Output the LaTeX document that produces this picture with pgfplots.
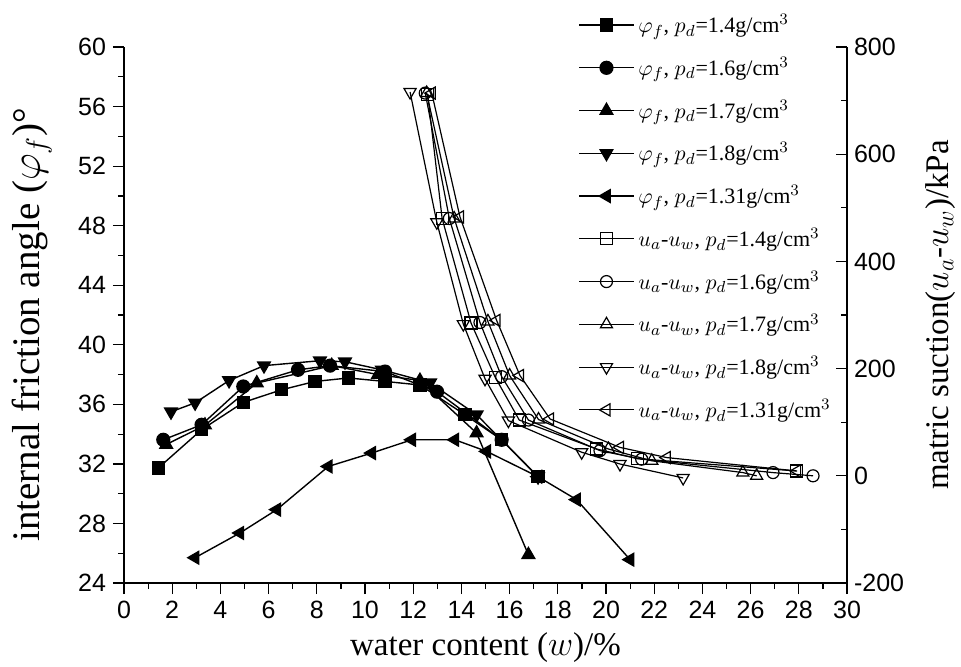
\documentclass[border=0pt]{standalone}
\usepackage{pgfplots}
\pgfplotsset{compat=1.18}
\usepackage{fontspec}
\setmainfont{Liberation Serif}
\newfontfamily\tickfont{Liberation Sans}

\begin{document}
\begin{tikzpicture}
\useasboundingbox (-62pt,-41.5pt) rectangle (418.5pt,291.5pt);
\pgfplotsset{
  every axis/.append style={
    scale only axis, width=361.5pt, height=268pt,
    at={(0pt,0pt)}, anchor=south west,
    xmin=0, xmax=30,
    xtick={0,2,...,30}, minor x tick num=1,
    tick align=outside, major tick length=5.5pt, minor tick length=3pt,
    tick style={black, line width=0.6pt},
    axis line style={line width=0.8pt},
    ticklabel style={font=\tickfont\fontsize{12.5}{14}\selectfont},
    /pgf/number format/assume math mode=true,
    label style={font=\fontsize{16.5}{19}\selectfont},
    legend image code/.code={\draw[mark repeat=2,mark phase=2,#1] plot coordinates {(0cm,0cm) (0.48cm,0cm) (0.96cm,0cm)};},
  },
  phi/.style={black, line width=0.7pt, mark options={solid, fill=black}},
  suc/.style={black, line width=0.6pt, mark options={solid, fill=white}, mark size=3pt},
}
\begin{axis}[
  axis x line*=bottom, axis y line*=left,
  ymin=24, ymax=60, ytick={24,28,...,60}, minor y tick num=1,
  xlabel={water content ($w$)/\%},
  ylabel={internal friction angle ($\varphi_f$)°},
  xlabel style={at={(axis description cs:0.5,-0.121)}, anchor=center},
  ylabel style={at={(axis description cs:-0.127,0.482)}, anchor=center, font=\fontsize{19.5}{22}\selectfont},
]
% phi, 1.4
\addplot[phi, mark=square*, mark size=3pt] coordinates {
(1.42,31.72) (3.22,34.3) (4.95,36.13) (6.54,36.98) (7.93,37.54) (9.31,37.77) (10.83,37.54) (12.28,37.3) (14.15,35.3) (15.67,33.62) (17.18,31.14)};
% phi, 1.6
\addplot[phi, mark=*, mark size=3.2pt] coordinates {
(1.63,33.62) (3.22,34.63) (4.95,37.2) (7.22,38.32) (8.55,38.6) (10.83,38.2) (12.99,36.85) (15.67,33.62)};
% phi, 1.7
\addplot[phi, mark=triangle*, mark size=3.6pt] coordinates {
(1.75,33.3) (3.36,34.6) (5.51,37.43) (8.62,38.6) (10.54,38.0) (12.28,37.6) (14.63,34.07) (16.78,25.9)};
% phi, 1.8
\addplot[phi, mark=triangle*, mark size=3.6pt, mark options={rotate=180}] coordinates {
(1.95,35.5) (2.95,36.1) (4.36,37.6) (5.81,38.6) (8.13,38.93) (9.17,38.86) (10.7,38.32) (12.7,37.45) (14.63,35.3) (17.18,31.14)};
% phi, 1.31
\addplot[phi, mark=triangle*, mark size=3.6pt, mark options={rotate=90}] coordinates {
(2.95,25.7) (4.81,27.36) (6.34,28.93) (8.48,31.83) (10.28,32.73) (11.94,33.62) (13.73,33.62) (15.05,32.84) (17.18,31.14) (18.78,29.6) (21.0,25.57)};
\end{axis}

\begin{axis}[
  axis x line=none, axis y line*=right,
  ymin=-200, ymax=800, ytick={-200,0,...,800}, minor y tick num=1,
  tick align=inside,
  ylabel={matric suction($u_a$-$u_w$)/kPa},
  ylabel style={at={(axis description cs:1.129,0.5)}, anchor=center},
  legend style={draw=none, fill=none, at={(axis description cs:0.628,1.069)}, anchor=north west,
    font=\fontsize{11}{13}\selectfont, row sep=6.75pt, inner sep=0pt},
  legend cell align=left,
]
\addlegendimage{phi, mark=square*, mark size=3pt}
\addlegendentry{$\varphi_f$, $p_d$=1.4g/cm$^3$}
\addlegendimage{phi, mark=*, mark size=3.2pt}
\addlegendentry{$\varphi_f$, $p_d$=1.6g/cm$^3$}
\addlegendimage{phi, mark=triangle*, mark size=3.6pt}
\addlegendentry{$\varphi_f$, $p_d$=1.7g/cm$^3$}
\addlegendimage{phi, mark=triangle*, mark size=3.6pt, mark options={rotate=180}}
\addlegendentry{$\varphi_f$, $p_d$=1.8g/cm$^3$}
\addlegendimage{phi, mark=triangle*, mark size=3.6pt, mark options={rotate=90}}
\addlegendentry{$\varphi_f$, $p_d$=1.31g/cm$^3$}
% suction, 1.4
\addplot[suc, mark=square] coordinates {
(12.6,712) (13.2,480) (14.4,285) (15.4,184) (16.4,104) (19.61,50) (21.3,32) (27.9,9)};
\addlegendentry{$u_a$-$u_w$, $p_d$=1.4g/cm$^3$}
% suction, 1.6
\addplot[suc, mark=o] coordinates {
(12.5,714) (13.5,480) (14.77,286) (15.67,185) (16.78,104) (19.75,47) (21.48,31) (26.93,6) (28.59,0)};
\addlegendentry{$u_a$-$u_w$, $p_d$=1.6g/cm$^3$}
% suction, 1.7
\addplot[suc, mark=triangle, mark size=3.5pt] coordinates {
(12.56,714) (13.7,480) (15.1,288) (16.0,187) (17.2,105) (20.1,50) (21.9,28) (25.68,6) (26.25,0)};
\addlegendentry{$u_a$-$u_w$, $p_d$=1.7g/cm$^3$}
% suction, 1.8
\addplot[suc, mark=triangle, mark size=3.5pt, mark options={rotate=180}] coordinates {
(11.87,716) (12.98,473) (14.08,283) (14.98,181) (15.95,103) (18.99,44) (20.58,22) (23.2,-4)};
\addlegendentry{$u_a$-$u_w$, $p_d$=1.8g/cm$^3$}
% suction, 1.31
\addplot[suc, mark=triangle, mark size=3.5pt, mark options={rotate=90}] coordinates {
(12.77,714) (13.94,483) (15.46,290) (16.43,187) (17.68,106) (20.58,53) (22.52,34) (27.93,9)};
\addlegendentry{$u_a$-$u_w$, $p_d$=1.31g/cm$^3$}
\end{axis}
\end{tikzpicture}
\end{document}
